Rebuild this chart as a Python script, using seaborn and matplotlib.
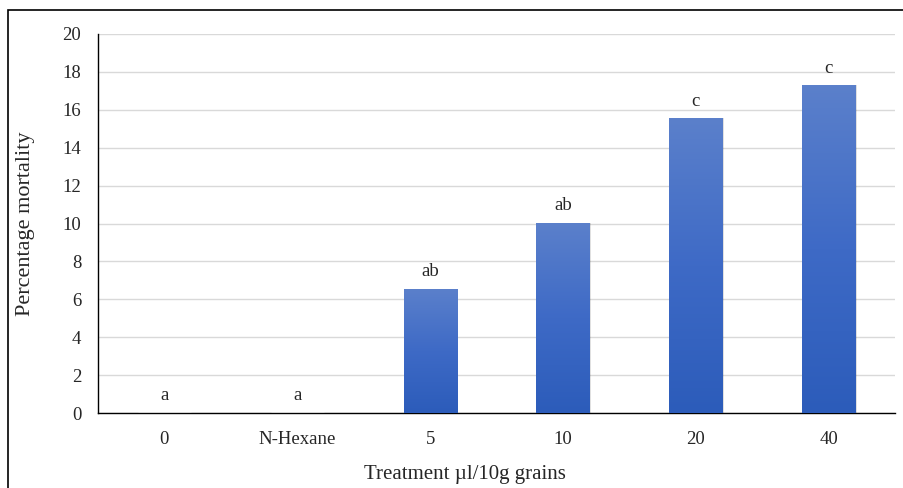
import matplotlib
matplotlib.use("Agg")
import matplotlib.pyplot as plt
import seaborn as sns
import numpy as np
import pandas as pd
from matplotlib.colors import LinearSegmentedColormap
from matplotlib.patches import Rectangle

categories = ["0", "N-Hexane", "5", "10", "20", "40"]
mortality = [0.0, 0.0, 6.55, 10.05, 15.55, 17.3]
letters = ["a", "a", "ab", "ab", "c", "c"]
yticks = [0, 2, 4, 6, 8, 10, 12, 14, 16, 18, 20]

sns.set_style("white")
plt.rcParams["font.family"] = ["Liberation Serif", "DejaVu Serif"]

df = pd.DataFrame({"Treatment": categories, "Mortality": mortality})

fig = plt.figure(figsize=(9.04, 4.88), dpi=100)
ax = fig.add_axes([98/904, 1 - 413/488, (895-98)/904, (413-34)/488])

sns.barplot(data=df, x="Treatment", y="Mortality", ax=ax, color="#3a66c4",
            width=0.4, saturation=1, errorbar=None, zorder=3)

ax.set_ylim(0, 20)
ax.set_xlim(-0.5, 5.5)
ax.set_yticks(yticks)
ax.set_yticklabels([str(t) for t in yticks], fontsize=13.5)
ax.tick_params(axis="x", labelsize=13.5, length=0, pad=13)
ax.tick_params(axis="y", length=0, pad=12)
ax.grid(axis="y", color="#d9d9d9", linewidth=1, zorder=0)
ax.set_axisbelow(True)
for s in ["top", "right"]:
    ax.spines[s].set_visible(False)
for s in ["left", "bottom"]:
    ax.spines[s].set_color("black")
    ax.spines[s].set_linewidth(1.0)

cmap = LinearSegmentedColormap.from_list("g", ["#2c5cba", "#3e6ac6", "#5b80cb"])
grad = np.linspace(0, 1, 256).reshape(-1, 1)
for p in ax.patches:
    x0, y0 = p.get_x(), p.get_y()
    w, h = p.get_width(), p.get_height()
    if h <= 0:
        continue
    sh = Rectangle((x0 + 0.012, y0), w, h, facecolor="#000000", alpha=0.12,
                   edgecolor="none", zorder=2.5)
    ax.add_patch(sh)
    p.set_facecolor("none")
    p.set_edgecolor("none")
    im = ax.imshow(grad, extent=[x0, x0 + w, y0, y0 + h], origin="lower",
                   cmap=cmap, aspect="auto", zorder=3)
    im.set_clip_path(p)

ax.set_xlim(-0.5, 5.5)
ax.set_ylim(0, 20)

for i, (v, l) in enumerate(zip(mortality, letters)):
    ax.text(i, v + 0.45, l, ha="center", va="bottom", fontsize=13.5)

ax.set_ylabel("Percentage mortality", fontsize=16)
ax.yaxis.label.set_va("center")
ax.yaxis.set_label_coords(-(98-26)/(895-98), 0.5)
ax.set_xlabel("Treatment \u00b5l/10g grains", fontsize=15)
ax.xaxis.label.set_va("center")
ax.xaxis.set_label_coords((465-98)/(895-98), -(474-413)/(413-34))

fig.patches.append(Rectangle((8/904, -0.1), 1.2, 1 - 10/488 + 0.1, transform=fig.transFigure,
                             fill=False, edgecolor="black", linewidth=1.2))

fig.savefig("out.png", dpi=100)
